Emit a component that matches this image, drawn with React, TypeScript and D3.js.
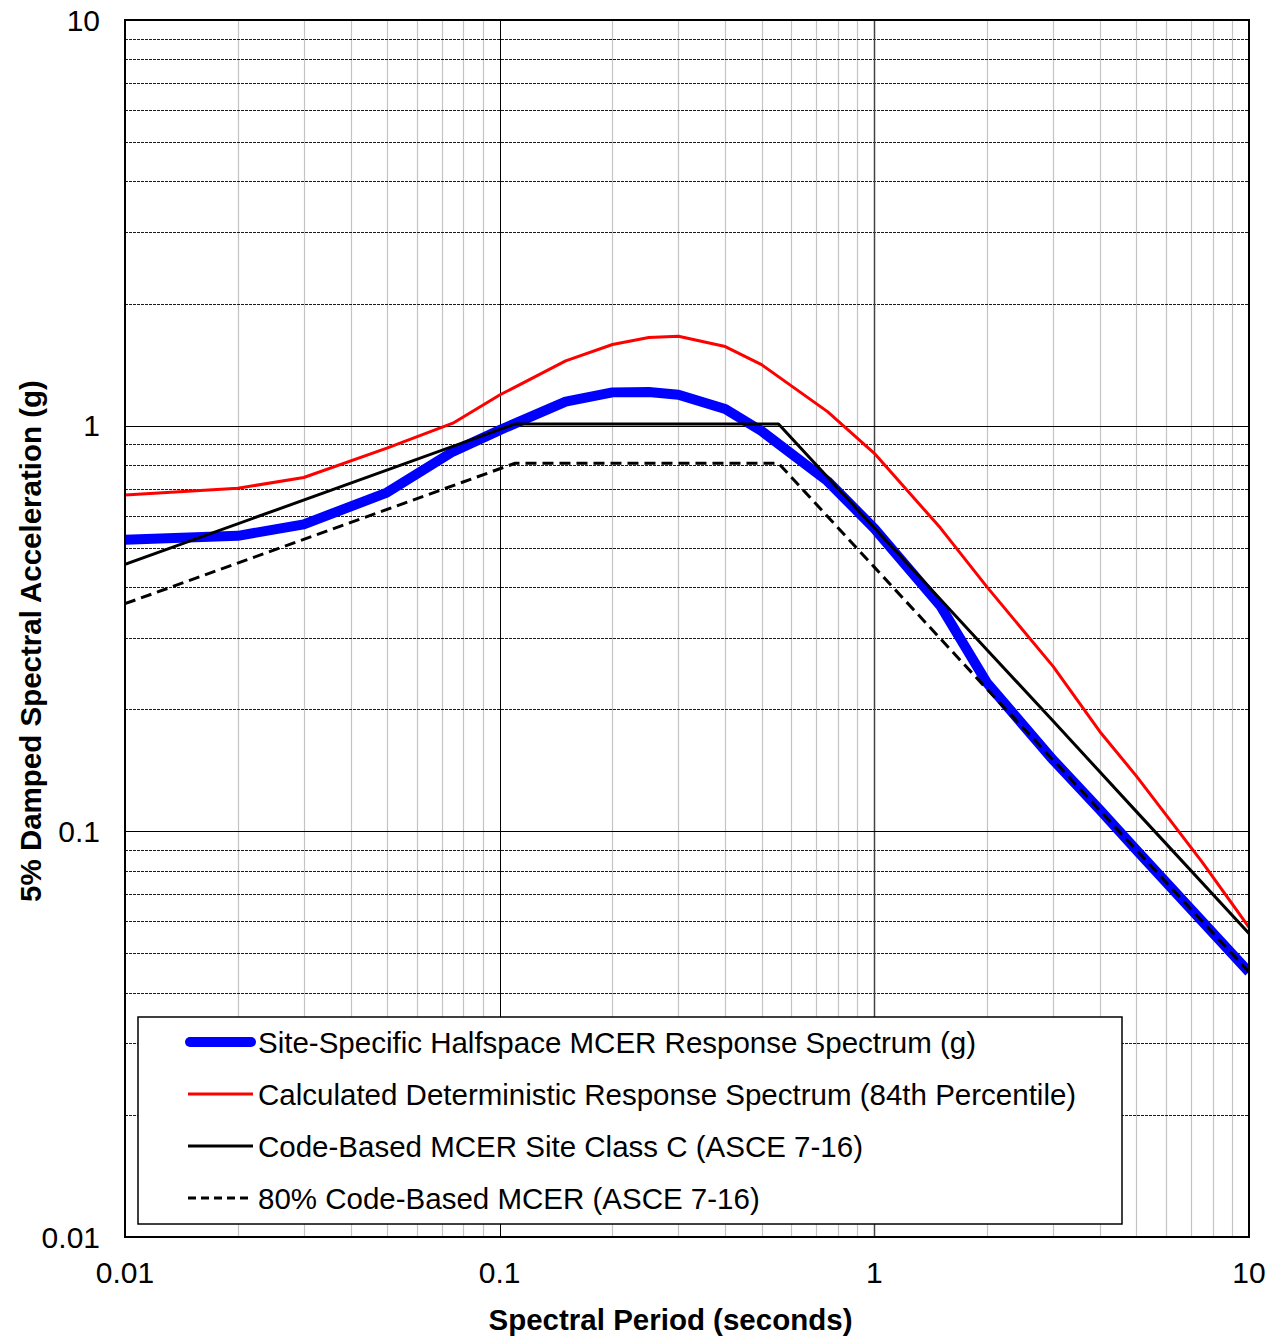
import React from "react";
import * as d3 from "d3";

// ---- Data ----
const periods = [0.01, 0.02, 0.03, 0.05, 0.075, 0.1, 0.15, 0.2, 0.25, 0.3, 0.4, 0.5, 0.75, 1, 1.5, 2, 3, 4, 5, 7.5, 10];
const siteSpecific = [0.523, 0.535, 0.571, 0.684, 0.863, 0.975, 1.146, 1.208, 1.21, 1.192, 1.099, 0.97, 0.73, 0.558, 0.36, 0.232, 0.15, 0.113, 0.09, 0.06, 0.045];
const deterministic = [0.675, 0.701, 0.745, 0.88, 1.014, 1.19, 1.444, 1.585, 1.65, 1.661, 1.567, 1.414, 1.083, 0.855, 0.56, 0.4, 0.255, 0.176, 0.137, 0.084, 0.058];

const codePeriods = [0.01, 0.11, 0.555, 1, 2, 3, 5, 10];
const codeMCER = [0.455, 1.01, 1.01, 0.56, 0.28, 0.187, 0.112, 0.056];
const code80 = [0.364, 0.808, 0.808, 0.448, 0.224, 0.15, 0.09, 0.045];

const xTicks = [0.01, 0.1, 1, 10];
const xTickLabels = ["0.01", "0.1", "1", "10"];
const yTicks = [10, 1, 0.1, 0.01];
const yTickLabels = ["10", "1", "0.1", "0.01"];

const legendLabels = [
  "Site-Specific Halfspace MCER Response Spectrum (g)",
  "Calculated Deterministic Response Spectrum (84th Percentile)",
  "Code-Based MCER Site Class C (ASCE 7-16)",
  "80% Code-Based MCER (ASCE 7-16)",
];

const W = 1278;
const H = 1337;
const L = 125, R = 1249, T = 20, B = 1237;
const FONT = "'Liberation Sans', Arial, Helvetica, sans-serif";

export default function App() {
  const x = d3.scaleLog().domain([0.01, 10]).range([L, R]);
  const y = d3.scaleLog().domain([0.01, 10]).range([B, T]);

  const minorX: number[] = [];
  const minorY: number[] = [];
  for (const dec of [0.01, 0.1, 1]) {
    for (let k = 2; k <= 9; k++) {
      minorX.push(dec * k);
      minorY.push(dec * k);
    }
  }

  const line = (xs: number[], ys: number[]) =>
    d3.line<number>().x((_, i) => x(xs[i])).y((v) => y(v))(ys) || "";

  const legendRows = [1042, 1094, 1146, 1198];
  const legendStyles = [
    { stroke: "#0000ff", width: 10, dash: undefined as string | undefined, cap: "round" },
    { stroke: "#ff0000", width: 3, dash: undefined, cap: "butt" },
    { stroke: "#000000", width: 3, dash: undefined, cap: "butt" },
    { stroke: "#000000", width: 3, dash: "8,5", cap: "butt" },
  ];

  return (
    <div style={{ position: "absolute", left: 0, top: 0 }}>
      <svg width={W} height={H} style={{ display: "block", background: "#fff" }}>
        <defs>
          <clipPath id="plotClip">
            <rect x={L} y={T} width={R - L} height={B - T} />
          </clipPath>
        </defs>
        <rect x={0} y={0} width={W} height={H} fill="#fff" />

        {/* vertical minor gridlines */}
        {minorX.map((v, i) => (
          <line key={"vx" + i} x1={Math.round(x(v)) + 0.5} x2={Math.round(x(v)) + 0.5} y1={T} y2={B}
            stroke="#c4c4c4" strokeWidth={1.2} />
        ))}
        {/* horizontal minor gridlines */}
        {minorY.map((v, i) => (
          <line key={"hy" + i} x1={L} x2={R} y1={Math.round(y(v)) + 0.5} y2={Math.round(y(v)) + 0.5}
            stroke="#1a1a1a" strokeWidth={1.2} strokeDasharray="3,1" />
        ))}
        {/* major gridlines */}
        {[0.1, 1].map((v, i) => (
          <line key={"mx" + i} x1={Math.round(x(v)) + 0.5} x2={Math.round(x(v)) + 0.5} y1={T} y2={B}
            stroke={i === 0 ? "#000" : "#444"} strokeWidth={i === 0 ? 1 : 1.5} />
        ))}
        {[0.1, 1].map((v, i) => (
          <line key={"my" + i} x1={L} x2={R} y1={Math.round(y(v)) + 0.5} y2={Math.round(y(v)) + 0.5}
            stroke="#000" strokeWidth={1} />
        ))}

        {/* series */}
        <g clipPath="url(#plotClip)" fill="none" strokeLinejoin="round">
          <path d={line(periods, siteSpecific)} stroke="#0000ff" strokeWidth={10} />
          <path d={line(periods, deterministic)} stroke="#ff0000" strokeWidth={3} />
          <path d={line(codePeriods, codeMCER)} stroke="#000" strokeWidth={3} />
          <path d={line(codePeriods, code80)} stroke="#000" strokeWidth={3} strokeDasharray="11,6" />
        </g>

        {/* plot border */}
        <rect x={L} y={T} width={R - L} height={B - T} fill="none" stroke="#000" strokeWidth={2} />

        {/* y tick labels */}
        {yTicks.map((v, i) => (
          <text key={"yt" + i} x={100} y={y(v)} dy="0.36em" textAnchor="end" fontFamily={FONT} fontSize={30} fill="#000">
            {yTickLabels[i]}
          </text>
        ))}
        {/* x tick labels */}
        {xTicks.map((v, i) => (
          <text key={"xt" + i} x={x(v)} y={1283} textAnchor="middle" fontFamily={FONT} fontSize={30} fill="#000">
            {xTickLabels[i]}
          </text>
        ))}

        {/* axis titles */}
        <text x={670.5} y={1330} textAnchor="middle" fontFamily={FONT} fontSize={29.5} fontWeight="bold" fill="#000">
          Spectral Period (seconds)
        </text>
        <text transform="translate(41,641) rotate(-90)" textAnchor="middle" fontFamily={FONT} fontSize={29.5} fontWeight="bold" fill="#000">
          5% Damped Spectral Acceleration (g)
        </text>

        {/* legend */}
        <rect x={138} y={1017} width={984} height={207} fill="#fff" stroke="#000" strokeWidth={1.5} />
        {legendLabels.map((lab, i) => (
          <g key={"lg" + i}>
            <line x1={legendStyles[i].cap === "round" ? 190 : 188} x2={legendStyles[i].cap === "round" ? 251 : 253}
              y1={legendRows[i]} y2={legendRows[i]}
              stroke={legendStyles[i].stroke} strokeWidth={legendStyles[i].width}
              strokeDasharray={legendStyles[i].dash} strokeLinecap={legendStyles[i].cap as any} />
            <text x={258} y={legendRows[i]} dy="0.36em" fontFamily={FONT} fontSize={29.5} fill="#000">
              {lab}
            </text>
          </g>
        ))}
      </svg>
    </div>
  );
}
